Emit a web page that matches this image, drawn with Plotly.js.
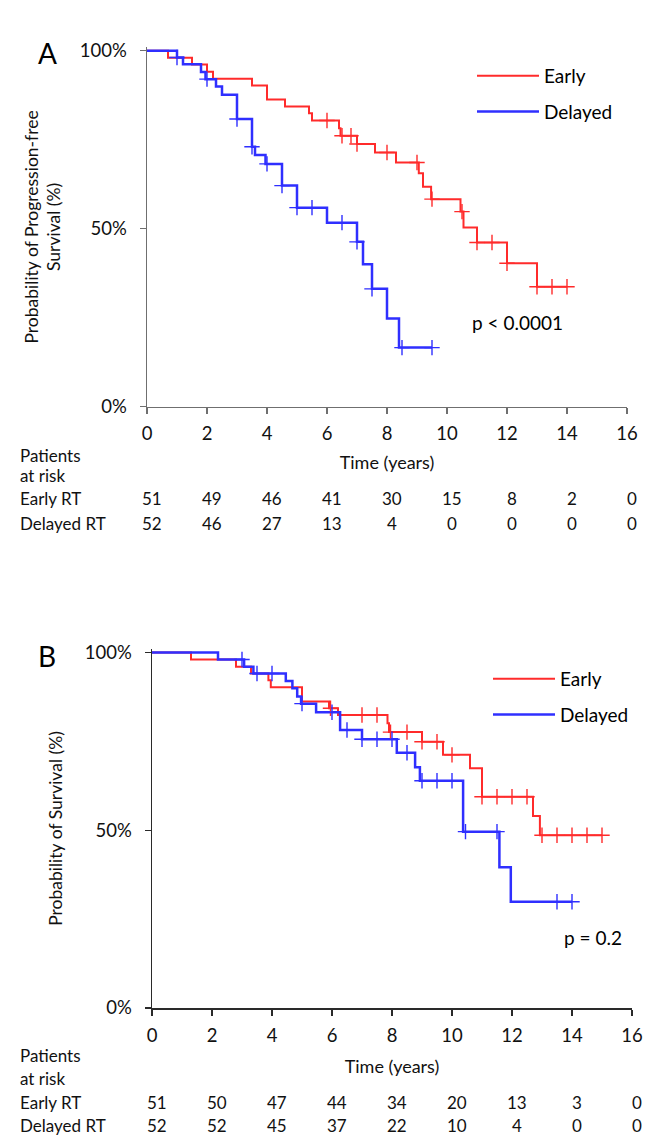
<!DOCTYPE html>
<html><head><meta charset="utf-8">
<script src="https://cdn.plot.ly/plotly-3.0.1.min.js"></script>
<style>html,body{margin:0;padding:0;background:#fff}#chart{width:661px;height:1136px}</style>
</head><body><div id="chart"></div>
<script>
// ---------- Panel A: progression-free survival (step times in years, survival in %) ----------
const pfsEarlyTimes = [0, 0.7, 1.5, 2.0, 2.2, 3.5, 4.0, 4.6, 5.4, 5.5, 6.4, 6.45, 7.0, 7.6, 8.3, 9.06, 9.2, 9.47, 10.45, 10.55, 11.0, 12.0, 13.0, 14.0];
const pfsEarlySurv  = [100, 98.0, 96.1, 94.1, 92.1, 90.2, 86.3, 84.3, 82.4, 80.4, 78.2, 76.1, 73.8, 71.4, 68.6, 65.6, 61.8, 58.3, 54.8, 50.3, 46.1, 40.3, 33.7, 33.7];
const pfsEarlyCensor = [6.0, 6.5, 6.8, 7.0, 8.0, 9.0, 9.5, 10.5, 11.0, 11.5, 12.0, 13.0, 13.5, 14.0];

const pfsDelayedTimes = [0, 1.0, 1.2, 1.8, 1.95, 2.3, 2.5, 3.0, 3.5, 3.6, 3.95, 4.5, 5.0, 6.0, 7.0, 7.2, 7.5, 8.0, 8.4, 9.5];
const pfsDelayedSurv  = [100, 98.1, 96.2, 94.0, 92.0, 89.9, 87.6, 80.8, 73.0, 70.7, 68.2, 62.1, 55.9, 51.7, 46.3, 40.0, 33.1, 24.8, 16.6, 16.6];
const pfsDelayedCensor = [1.0, 2.0, 3.0, 3.5, 4.0, 4.5, 5.0, 5.5, 6.5, 7.0, 7.5, 8.5, 9.5];

// ---------- Panel B: overall survival ----------
const osEarlyTimes = [0, 1.3, 2.8, 3.3, 3.88, 3.96, 5.0, 5.9, 6.2, 7.85, 7.9, 9.0, 9.7, 10.6, 11.0, 12.7, 12.93, 15.0];
const osEarlySurv  = [100, 98.0, 96.0, 94.1, 92.2, 90.2, 86.2, 84.3, 82.4, 80.1, 77.6, 74.9, 71.2, 67.4, 59.4, 54.0, 48.6, 48.6];
const osEarlyCensor = [5.95, 7.0, 7.5, 7.95, 8.5, 9.0, 9.5, 10.0, 11.0, 11.5, 12.0, 12.5, 13.0, 13.5, 14.0, 14.5, 15.0];

const osDelayedTimes = [0, 2.2, 3.07, 3.38, 4.46, 4.68, 4.84, 4.97, 5.47, 6.27, 7.0, 8.16, 8.77, 8.93, 10.37, 11.58, 11.96, 14.0];
const osDelayedSurv  = [100, 98.0, 96.0, 94.1, 92.0, 89.9, 87.6, 85.6, 83.2, 78.2, 75.6, 71.8, 67.7, 63.9, 49.6, 39.6, 29.9, 29.9];
const osDelayedCensor = [3.0, 3.5, 4.0, 5.0, 6.0, 6.5, 7.0, 7.5, 8.0, 8.5, 9.0, 9.5, 10.0, 10.45, 11.5, 13.5, 14.0];

// ---------- Numbers at risk ----------
const riskTimes = [0, 2, 4, 6, 8, 10, 12, 14, 16];
const pfsRiskEarly   = [51, 49, 46, 41, 30, 15, 8, 2, 0];
const pfsRiskDelayed = [52, 46, 27, 13, 4, 0, 0, 0, 0];
const osRiskEarly    = [51, 50, 47, 44, 34, 20, 13, 3, 0];
const osRiskDelayed  = [52, 52, 45, 37, 22, 10, 4, 0, 0];

const xTicks = [0, 2, 4, 6, 8, 10, 12, 14, 16];
const yTicks = [0, 50, 100];
const yTickText = ['0%', '50%', '100%'];

// ---------- styling ----------
const RED = '#ff2b2b', BLUE = '#2f2fff';
const FONT = 'Lato, "Open Sans", "Noto Sans", sans-serif';
const W = 661, H = 1136;
const px = v => v / W, py = v => 1 - v / H;

function survAt(times, surv, t) {
  let s = surv[0];
  for (let i = 0; i < times.length; i++) if (times[i] <= t + 1e-9) s = surv[i];
  return s;
}
function curve(times, surv, color, width, name, xa, ya, legend) {
  return {x: times, y: surv, type: 'scatter', mode: 'lines', line: {shape: 'hv', color: color, width: width},
          name: name, xaxis: xa, yaxis: ya, legend: legend, legendgroup: legend + name, showlegend: true, hoverinfo: 'skip'};
}
function censor(ct, times, surv, color, xa, ya, legend) {
  return {x: ct, y: ct.map(t => survAt(times, surv, t)), type: 'scatter', mode: 'markers',
          marker: {symbol: 'cross-thin', size: 11, line: {color: color, width: 1.4}, color: color},
          xaxis: xa, yaxis: ya, showlegend: false, legend: legend, hoverinfo: 'skip', cliponaxis: false};
}

const data = [
  curve(pfsEarlyTimes, pfsEarlySurv, RED, 2, 'Early', 'x', 'y', 'legend'),
  curve(pfsDelayedTimes, pfsDelayedSurv, BLUE, 2.5, 'Delayed', 'x', 'y', 'legend'),
  censor(pfsEarlyCensor, pfsEarlyTimes, pfsEarlySurv, RED, 'x', 'y', 'legend'),
  censor(pfsDelayedCensor, pfsDelayedTimes, pfsDelayedSurv, BLUE, 'x', 'y', 'legend'),
  curve(osEarlyTimes, osEarlySurv, RED, 2, 'Early', 'x2', 'y2', 'legend2'),
  curve(osDelayedTimes, osDelayedSurv, BLUE, 2.5, 'Delayed', 'x2', 'y2', 'legend2'),
  censor(osEarlyCensor, osEarlyTimes, osEarlySurv, RED, 'x2', 'y2', 'legend2'),
  censor(osDelayedCensor, osDelayedTimes, osDelayedSurv, BLUE, 'x2', 'y2', 'legend2')
];

function xAxis(domain, anchor, lineColor, titleStandoff) {
  return {domain: domain, anchor: anchor, range: [0, 16], tickvals: xTicks, ticktext: xTicks.map(String),
          showline: true, linecolor: lineColor, linewidth: 1.5, ticks: 'outside', ticklen: 6, tickwidth: 1.2, tickcolor: lineColor,
          showgrid: false, zeroline: false, ticklabelstandoff: 4, tickfont: {size: 18.5, color: '#111', family: FONT},
          title: {text: 'Time (years)', font: {size: 18, color: '#111', family: FONT}, standoff: titleStandoff},
          fixedrange: true, automargin: false};
}
function xOverlay(over, anchor, domain, lineColor) {
  return {overlaying: over, anchor: anchor, domain: domain, range: [0, 16], tickvals: xTicks, showticklabels: false,
          ticks: 'inside', ticklen: 6, tickwidth: 1.2, tickcolor: lineColor, showline: false, showgrid: false, zeroline: false, side: 'bottom'};
}
function yAxis(domain, anchor, lineColor, title, standoff) {
  return {domain: domain, anchor: anchor, range: [0, 101], tickvals: yTicks, ticktext: yTickText,
          showline: true, linecolor: lineColor, linewidth: 1.5, ticks: 'outside', ticklen: 6, tickwidth: 1.2, tickcolor: lineColor,
          showgrid: false, zeroline: false, ticklabelstandoff: 9, tickfont: {size: 18.5, color: '#111', family: FONT},
          title: {text: title, font: {size: 17.5, color: '#111', family: FONT}, standoff: standoff},
          fixedrange: true, automargin: false};
}

const aX = [px(147), px(627)], aY = [py(406.7), py(47.1)];
const bX = [px(152), px(632)], bY = [py(1008), py(648.9)];

const annotations = [];
function riskRows(xref, rowsY, early, delayed) {
  riskTimes.forEach((t, i) => {
    annotations.push({xref: xref, yref: 'paper', x: t, y: rowsY[0], text: String(early[i]), showarrow: false, xshift: 5,
                      xanchor: 'center', yanchor: 'middle', font: {size: 17, family: FONT, color: '#111'}});
    annotations.push({xref: xref, yref: 'paper', x: t, y: rowsY[1], text: String(delayed[i]), showarrow: false, xshift: 5,
                      xanchor: 'center', yanchor: 'middle', font: {size: 17, family: FONT, color: '#111'}});
  });
}
riskRows('x', [py(498), py(524)], pfsRiskEarly, pfsRiskDelayed);
riskRows('x2', [py(1102), py(1125)], osRiskEarly, osRiskDelayed);
[['Patients', 455], ['at risk', 475], ['Early RT', 498], ['Delayed RT', 524],
 ['Patients', 1055], ['at risk', 1078], ['Early RT', 1102], ['Delayed RT', 1125]].forEach(([t, y]) => {
  annotations.push({xref: 'paper', yref: 'paper', x: px(18), y: py(y), text: t, showarrow: false, xanchor: 'left', yanchor: 'middle',
                    font: {size: 17, family: FONT, color: '#111'}});
});
annotations.push({xref: 'paper', yref: 'paper', x: px(47), y: py(53), text: 'A', showarrow: false, xanchor: 'center', yanchor: 'middle',
                  font: {size: 28, family: FONT, color: '#000'}});
annotations.push({xref: 'paper', yref: 'paper', x: px(47), y: py(656), text: 'B', showarrow: false, xanchor: 'center', yanchor: 'middle',
                  font: {size: 28, family: FONT, color: '#000'}});
annotations.push({xref: 'paper', yref: 'paper', x: px(470), y: py(322), text: 'p < 0.0001', showarrow: false, xanchor: 'left', yanchor: 'middle',
                  font: {size: 19, family: FONT, color: '#000'}});
annotations.push({xref: 'paper', yref: 'paper', x: px(562), y: py(937), text: 'p = 0.2', showarrow: false, xanchor: 'left', yanchor: 'middle',
                  font: {size: 19, family: FONT, color: '#000'}});

const legendBase = {xanchor: 'left', yanchor: 'top', bgcolor: 'rgba(0,0,0,0)', borderwidth: 0,
                    font: {size: 19, family: FONT, color: '#000'}, itemwidth: 62, traceorder: 'grouped', tracegroupgap: 8};

const layout = {
  width: W, height: H, margin: {l: 0, r: 0, t: 0, b: 0}, paper_bgcolor: '#fff', plot_bgcolor: '#fff',
  font: {family: FONT, color: '#111'},
  showlegend: true,
  xaxis: xAxis(aX, 'y', '#6f6f6f', 13),
  yaxis: yAxis(aY, 'x', '#6f6f6f', 'Probability of Progression-free<br>Survival (%)', 14),
  xaxis2: xAxis(bX, 'y2', '#2a2a2a', 15),
  yaxis2: yAxis(bY, 'x2', '#2a2a2a', 'Probability of Survival (%)', 17),
  xaxis3: xOverlay('x', 'y', aX, '#6f6f6f'),
  xaxis4: xOverlay('x2', 'y2', bX, '#2a2a2a'),
  legend: Object.assign({}, legendBase, {x: px(472), y: py(57)}),
  legend2: Object.assign({}, legendBase, {x: px(488), y: py(660)}),
  annotations: annotations
};

Plotly.newPlot('chart', data, layout, {displayModeBar: false, staticPlot: true});
</script>
</body></html>
